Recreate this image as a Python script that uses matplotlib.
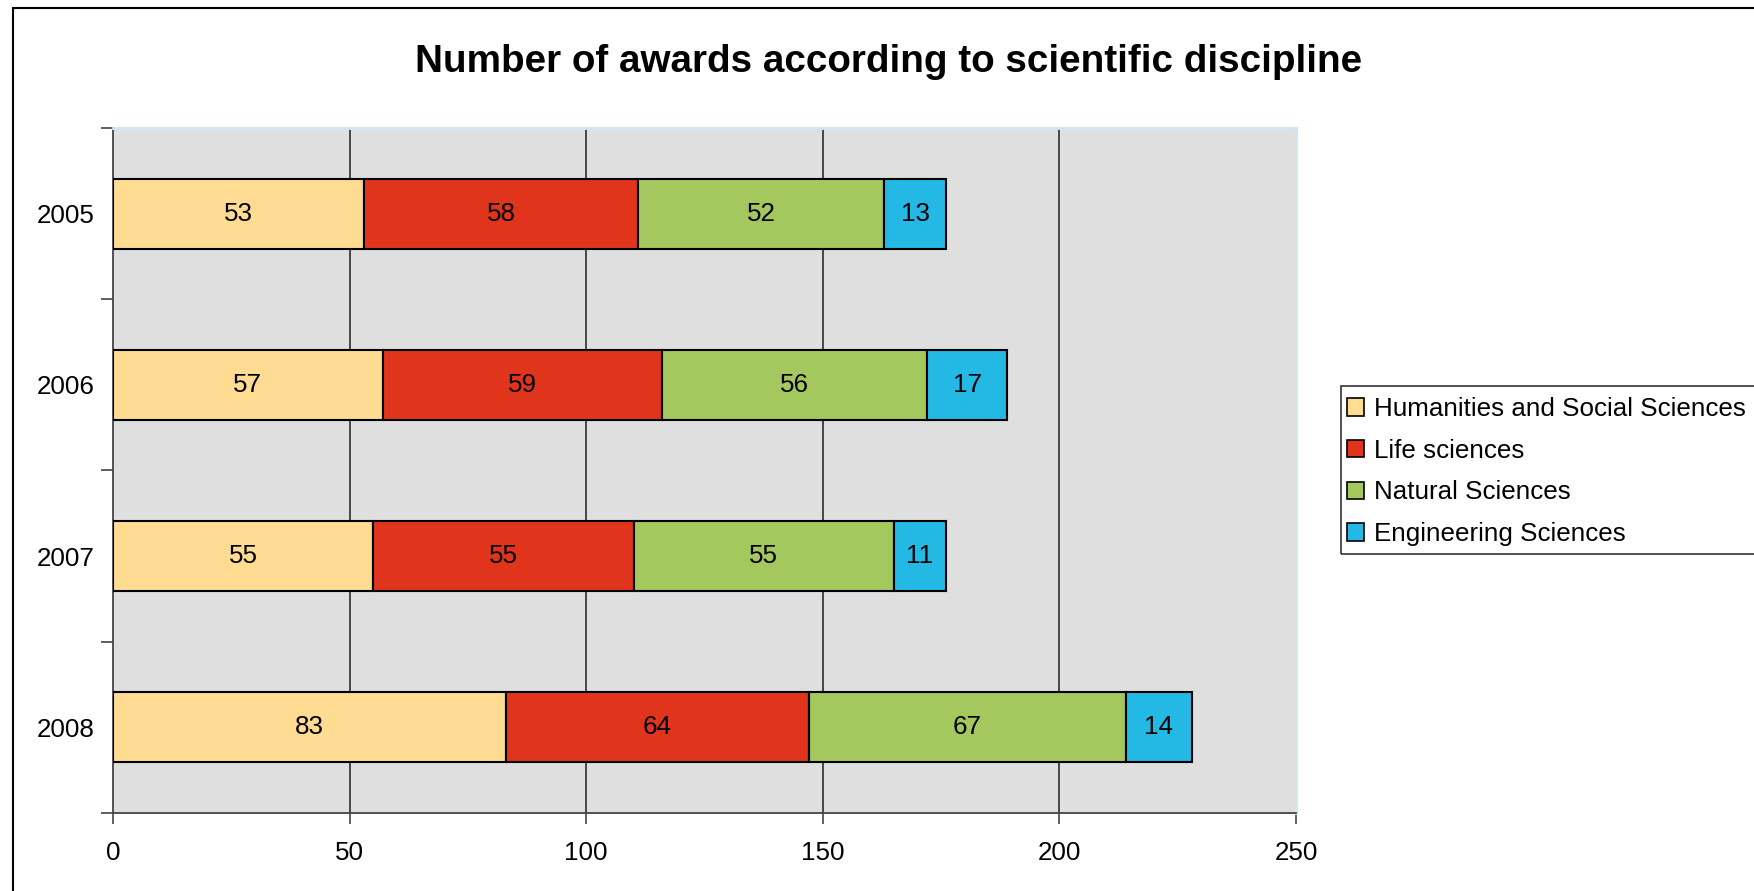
import matplotlib
matplotlib.use('Agg')
import matplotlib.pyplot as plt
from matplotlib.patches import Rectangle, Patch

plt.rcParams['font.family'] = ['Liberation Sans', 'DejaVu Sans']

# data
years = ['2005', '2006', '2007', '2008']
disciplines = ['Humanities and Social Sciences', 'Life sciences',
               'Natural Sciences', 'Engineering Sciences']
humanities = [53, 57, 55, 83]
life = [58, 59, 55, 64]
natural = [52, 56, 55, 67]
engineering = [13, 17, 11, 14]
series = [humanities, life, natural, engineering]
colors = ['#FFDC91', '#E0341C', '#A4C75E', '#24B8E4']

W, H = 1754, 891
fs = 18.7
fig = plt.figure(figsize=(W/100, H/100), dpi=100)

# outer chart frame (runs off the right / bottom edge)
fig.patches.append(Rectangle((12.5/W, -0.05), 1.2, 1.05 - 8.3/H,
                             transform=fig.transFigure, fill=False,
                             edgecolor='black', lw=1.5))

ax = fig.add_axes([113/W, 1 - 813/H, (1296 - 113)/W, (813 - 128)/H])
ax.set_facecolor('#DFDFDF')

ypos = list(range(len(years)))
left = [0] * len(years)
for vals, col, name in zip(series, colors, disciplines):
    ax.barh(ypos, vals, left=left, height=0.41, color=col,
            edgecolor='black', linewidth=1.5, zorder=3, label=name)
    for y, v, l in zip(ypos, vals, left):
        ax.text(l + v/2, y, str(v), ha='center', va='center',
                fontsize=fs, zorder=4)
    left = [a + b for a, b in zip(left, vals)]

ax.set_xlim(0, 250)
ax.set_ylim(3.5, -0.5)
ax.set_xticks([0, 50, 100, 150, 200, 250])
ax.set_xticklabels(['0', '50', '100', '150', '200', '250'])
ax.set_yticks(ypos)
ax.set_yticklabels(years)
ax.set_yticks([-0.5, 0.5, 1.5, 2.5, 3.5], minor=True)

for x in [50, 100, 150, 200]:
    ax.axvline(x, color='#3A3A3A', lw=1.3, zorder=1)

ax.tick_params(axis='x', direction='out', length=8, width=1.2,
               color='#444444', labelsize=fs, pad=12.5)
ax.tick_params(axis='y', which='major', length=0, labelsize=fs, pad=13.5)
ax.tick_params(axis='y', which='minor', direction='out', length=9,
               width=1.2, color='#444444')

for s in ['left', 'bottom']:
    ax.spines[s].set_color('#444444')
    ax.spines[s].set_linewidth(1.3)
for s in ['top', 'right']:
    ax.spines[s].set_color('#CFE6F0')
    ax.spines[s].set_linewidth(2)

fig.text(889/W, 1 - 61.5/H, 'Number of awards according to scientific discipline',
         ha='center', va='center', fontsize=27.8, fontweight='bold')

# legend box runs past the right edge of the picture
fig.patches.append(Rectangle((1341/W, 1 - 554/H), 0.5, (554 - 386)/H,
                             transform=fig.transFigure, fill=False,
                             edgecolor='#333333', lw=1.2))
handles = [Patch(facecolor=c, edgecolor='black', lw=1.2) for c in colors]
leg = fig.legend(handles, disciplines, loc='upper left',
                 bbox_to_anchor=(1336/W, 1 - 386/H), fontsize=fs,
                 frameon=False, borderpad=0.43,
                 labelspacing=0.68, handlelength=0.66, handleheight=0.66,
                 handletextpad=0.36, borderaxespad=0)

fig.savefig('out.png', dpi=100)
